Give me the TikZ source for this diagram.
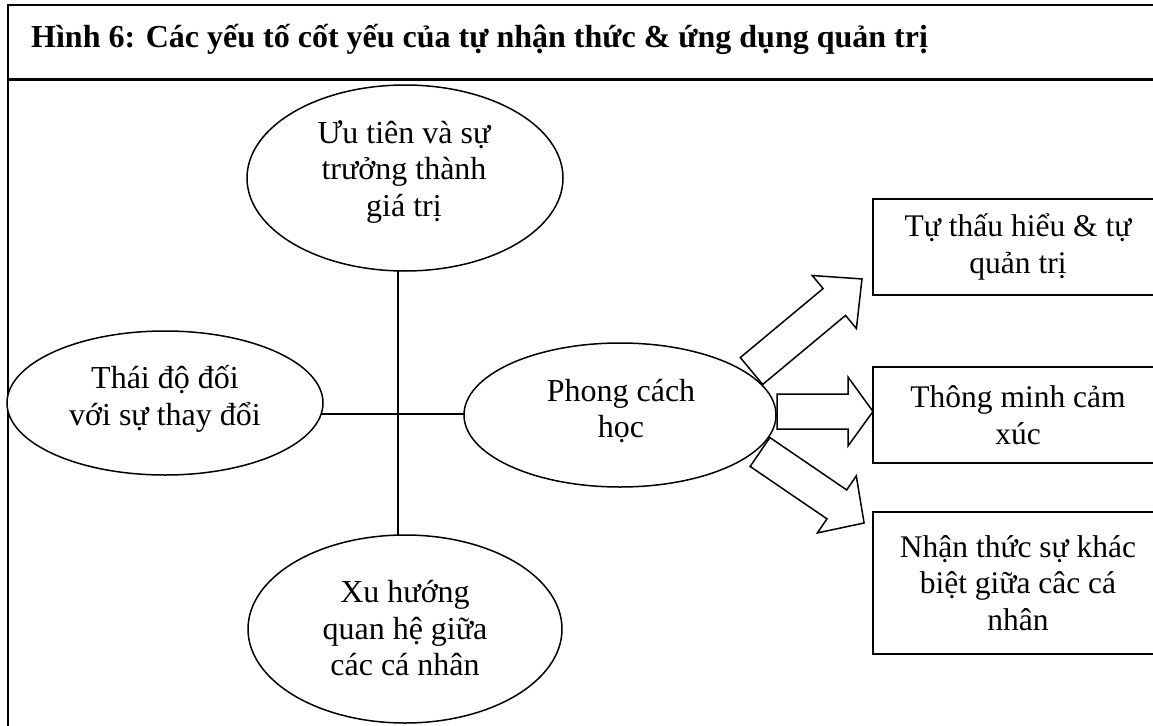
\documentclass[tikz,border=0pt]{standalone}
\usepackage{fontspec}
\setmainfont{Liberation Serif}
\usetikzlibrary{shapes.geometric}
\tikzset{
  pics/blockarrow/.style n args={2}{code={
    \draw[blk] (0,-17.5) -- ({#1-#2},-17.5) -- ({#1-#2},-34.5) -- (#1,0)
      -- ({#1-#2},34.5) -- ({#1-#2},17.5) -- (0,17.5) -- cycle;
  }}
}
\begin{document}
\begin{tikzpicture}[x=1pt,y=-1pt,
  oval/.style={draw, ellipse, fill=white, line width=1.5pt, inner sep=0pt, outer sep=0pt},
  lbl/.style={align=center, font=\fontsize{32}{36.5}\selectfont, inner sep=0pt},
  box/.style={draw, rectangle, line width=2pt, minimum width=290pt, align=center,
              font=\fontsize{31.5}{36.5}\selectfont},
  frame/.style={line width=2.5pt},
  link/.style={line width=1.5pt},
  blk/.style={draw, fill=white, line width=1.5pt, line join=miter}
]
\useasboundingbox (0,0) rectangle (1153,725);
\clip (0,0) rectangle (1153,725);
\fill[white] (0,0) rectangle (1153,725);

% frame
\draw[frame] (8,800) -- (8,5) -- (1200,5);
\draw[frame] (8,79.5) -- (1200,79.5);
\node[anchor=base west, font=\bfseries\fontsize{32}{36}\selectfont, inner sep=0pt] (title) at (31,48)
  {Hình 6: Các yếu tố cốt yếu của tự nhận thức \& ứng dụng quản trị};

% hub connectors
\coordinate (hub) at (398,414);
\coordinate (topc) at (405,178);
\coordinate (botc) at (405,629);
\coordinate (leftc) at (165,403);
\coordinate (midc) at (620,415);
\draw[link] (hub |- topc) -- (hub |- botc);
\draw[link] (leftc |- hub) -- (midc |- hub);

% block arrows
\pic[rotate=39.8] at (751.5,371) {blockarrow={143.8}{36}};
\pic at (777,411.5) {blockarrow={96}{25}};
\pic[rotate=-34.3] at (760,452) {blockarrow={126}{33}};

% ellipses
\node[oval, minimum width=316pt, minimum height=186pt] (top) at (topc) {};
\node[oval, minimum width=316pt, minimum height=144pt] (left) at (leftc) {};
\node[oval, minimum width=312pt, minimum height=144pt] (mid) at (midc) {};
\node[oval, minimum width=314pt, minimum height=188pt] (bot) at (botc) {};

\node[lbl] (topt) at (404,172) {Ưu tiên và sự\\trưởng thành\\giá trị};
\node[lbl] (leftt) at (165,399) {Thái độ đối\\với sự thay đổi};
\node[lbl] (midt) at (621,411) {Phong cách\\học};
\node[lbl] (bott) at (405,628.5) {Xu hướng\\quan hệ giữa\\các cá nhân};

% boxes
\node[box, minimum height=96pt] (b1) at (1018,247) {Tự thấu hiểu \& tự\\quản trị};
\node[box, minimum height=96pt] (b2) at (1018,415) {Thông minh cảm\\xúc};
\node[box, minimum height=142pt] (b3) at (1018,583) {Nhận thức sự khác\\biệt giữa câc cá\\nhân};
\end{tikzpicture}
\end{document}
